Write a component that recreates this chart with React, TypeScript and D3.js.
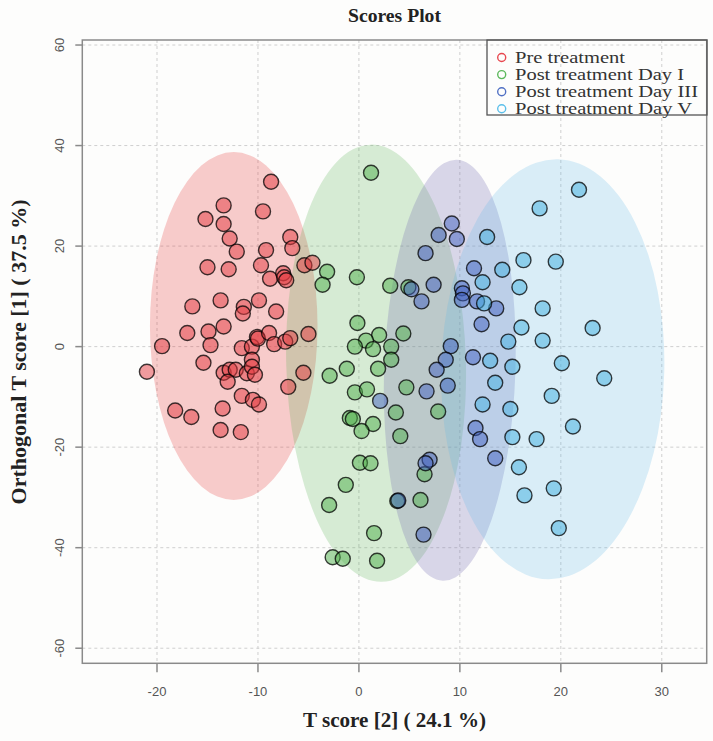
import React from "react";
import * as d3 from "d3";

const W = 713;
const H = 741;

const groupNames = ["Pre treatment", "Post treatment Day I", "Post treatment Day III", "Post treatment Day V"];
const markerColors = ["#e8474f", "#5cb85c", "#5070c4", "#5bbfea"];
const pointColors = ["#e4393f", "#4daf4a", "#3f5fc0", "#3fb0e0"];
const ellipseColors = ["#e41a1c", "#4daf4a", "#7570b3", "#5bb4e6"];

const xTicks = [-20, -10, 0, 10, 20, 30];
const yTicks = [-60, -40, -20, 0, 20, 40, 60];

// ellipse: [cx, cy, rx, ry, angleDeg]
const ellipsePre = [-12.4, 4.1, 8.3, 34.6, 0];
const ellipseDay1 = [1.7, -3.3, 8.9, 43.5, -1.5];
const ellipseDay3 = [9.0, -4.7, 6.5, 41.9, 1.9];
const ellipseDay5 = [19.2, -4.5, 11.05, 41.8, 1.4];

const pre: [number, number][] = [
  [-8.7, 32.8], [-13.4, 28.1], [-9.5, 26.9], [-15.2, 25.4], [-13.4, 24.4], [-12.8, 21.5],
  [-6.8, 21.8], [-6.6, 19.6], [-12.1, 18.9], [-9.2, 19.2], [-15.0, 15.8], [-12.9, 15.4],
  [-9.7, 16.2], [-8.8, 13.5], [-7.5, 14.6], [-7.4, 13.8], [-7.2, 13.2], [-5.4, 16.2],
  [-4.6, 16.7], [-16.5, 8.0], [-13.7, 9.2], [-11.4, 7.9], [-11.5, 6.6], [-9.9, 9.2],
  [-8.2, 7.0], [-17.0, 2.7], [-14.9, 3.0], [-13.4, 4.0], [-19.5, 0.1], [-14.7, 0.3],
  [-11.6, -0.3], [-10.6, 0.0], [-10.1, 1.9], [-10.0, 1.6], [-8.9, 2.7], [-8.4, 0.5],
  [-7.3, 1.0], [-6.8, 1.7], [-5.0, 2.5], [-21.0, -5.0], [-15.4, -3.2], [-13.4, -5.2],
  [-12.8, -4.6], [-12.2, -4.6], [-13.0, -7.0], [-11.1, -5.3], [-10.6, -2.6], [-10.6, -4.0],
  [-10.3, -5.6], [-11.6, -9.8], [-10.5, -10.6], [-9.9, -11.5], [-7.0, -8.0], [-5.5, -5.2],
  [-18.2, -12.7], [-16.6, -14.0], [-13.5, -12.3], [-13.7, -16.6], [-11.7, -17.0],
];

const day1: [number, number][] = [
  [1.2, 34.6], [-3.15, 14.9], [-3.6, 12.3], [-0.2, 13.8], [3.1, 12.1], [4.9, 11.8],
  [-0.15, 4.7], [2.0, 2.3], [0.7, 1.2], [4.4, 2.6], [-0.4, 0.0], [3.2, 0.0],
  [1.4, -0.5], [3.2, -2.6], [1.9, -4.4], [-1.2, -4.4], [-2.9, -5.8], [-0.4, -9.1],
  [0.8, -8.5], [4.7, -8.1], [7.85, -12.9], [3.66, -13.1], [-0.9, -14.2], [-0.6, -14.4],
  [1.4, -15.4], [0.26, -16.8], [4.1, -17.8], [0.1, -23.1], [1.15, -23.2], [6.5, -25.4],
  [-1.3, -27.5], [-2.95, -31.5], [3.8, -30.7], [6.1, -30.5], [1.5, -37.1], [-2.6, -41.9],
  [-1.6, -42.2], [1.8, -42.6],
];

const day3: [number, number][] = [
  [9.2, 24.5], [7.9, 22.2], [9.7, 21.4], [6.6, 18.6], [11.4, 15.6], [5.2, 11.4],
  [7.4, 12.3], [6.2, 9.0], [10.2, 11.6], [10.3, 10.6], [10.2, 9.3], [11.7, 9.0],
  [13.6, 7.6], [12.15, 4.45], [9.1, 0.1], [11.3, -2.1], [8.6, -2.6], [7.7, -4.6],
  [8.8, -7.75], [6.7, -8.9], [2.1, -10.8], [11.55, -16.2], [12.0, -18.4], [13.5, -22.2],
  [7.0, -22.5], [6.6, -23.2], [3.9, -30.6], [6.4, -37.4],
];

const day5: [number, number][] = [
  [12.7, 21.8], [12.25, 12.8], [14.2, 15.3], [16.3, 17.2], [19.5, 16.9], [17.9, 27.5],
  [21.8, 31.2], [15.9, 11.8], [18.2, 7.6], [23.15, 3.7], [16.1, 3.8], [18.2, 1.2],
  [14.8, 1.0], [12.4, 8.6], [13.0, -2.8], [15.2, -4.0], [20.1, -3.3], [24.3, -6.3],
  [13.5, -7.2], [19.1, -9.8], [12.25, -11.5], [15.0, -12.4], [21.2, -15.9], [15.2, -18.0],
  [17.6, -18.4], [15.85, -24.0], [19.3, -28.2], [16.4, -29.6], [19.8, -36.1],
];

const groups = [pre, day1, day3, day5];
const ellipses = [ellipsePre, ellipseDay1, ellipseDay3, ellipseDay5];

const legendWidths = [110, 169, 183, 177];

export default function App() {
  const x = d3.scaleLinear().domain([-27.4, 34.45]).range([82.3, 706.7]);
  const y = d3.scaleLinear().domain([-63, 61]).range([663.3, 40]);
  const [x0, x1] = x.range();
  const [y0, y1] = y.range();
  const axisColor = "#8a8a8a";
  const serif = "'Liberation Serif', 'Times New Roman', serif";
  const sans = "'Liberation Sans', Arial, sans-serif";

  return (
    <svg width={W} height={H} style={{ position: "absolute", left: 0, top: 0, background: "#fdfdfc" }}>
      <rect x={0} y={0} width={W} height={H} fill="#fdfdfc" />
      {/* grid */}
      {xTicks.map((t) => (
        <line key={"gx" + t} x1={x(t)} x2={x(t)} y1={y1} y2={y0} stroke="#cfcfcf" strokeWidth={1} strokeDasharray="3,3" />
      ))}
      {yTicks.map((t) => (
        <line key={"gy" + t} x1={x0} x2={x1} y1={y(t)} y2={y(t)} stroke="#cfcfcf" strokeWidth={1} strokeDasharray="3,3" />
      ))}
      {/* ellipses */}
      {ellipses.map((e, i) => {
        const cx = x(e[0]);
        const cy = y(e[1]);
        const rx = x(e[0] + e[2]) - cx;
        const ry = cy - y(e[1] + e[3]);
        return (
          <ellipse key={"e" + i} cx={cx} cy={cy} rx={rx} ry={ry}
            transform={`rotate(${e[4]} ${cx} ${cy})`}
            fill={ellipseColors[i]} fillOpacity={i === 2 ? 0.27 : 0.22} stroke="none" />
        );
      })}
      {/* points */}
      {groups.map((g, gi) => (
        <g key={"g" + gi}>
          {g.map((p, pi) => (
            <circle key={pi} cx={x(p[0])} cy={y(p[1])} r={7.5}
              fill={pointColors[gi]} fillOpacity={0.5}
              stroke="#000" strokeOpacity={0.75} strokeWidth={1.4} />
          ))}
        </g>
      ))}
      {/* box */}
      <rect x={x0} y={y1} width={x1 - x0} height={y0 - y1} fill="none" stroke={axisColor} strokeWidth={1.5} />
      {/* x ticks */}
      {xTicks.map((t) => (
        <g key={"xt" + t}>
          <line x1={x(t)} x2={x(t)} y1={y0} y2={y0 + 9} stroke={axisColor} strokeWidth={1.5} />
          <text x={x(t)} y={696} textAnchor="middle" fontFamily={sans} fontSize={13} fill="#555">{t}</text>
        </g>
      ))}
      {/* y ticks */}
      {yTicks.map((t) => (
        <g key={"yt" + t}>
          <line x1={x0 - 7} x2={x0} y1={y(t)} y2={y(t)} stroke={axisColor} strokeWidth={1.5} />
          <text transform={`translate(64, ${y(t)}) rotate(-90)`} textAnchor="middle" fontFamily={sans} fontSize={13} fill="#555">{t}</text>
        </g>
      ))}
      {/* title */}
      <text x={(x0 + x1) / 2} y={22} textAnchor="middle" fontFamily={serif} fontWeight="bold" fontSize={18.5}
        textLength={93} lengthAdjust="spacingAndGlyphs" fill="#222">Scores Plot</text>
      {/* axis labels */}
      <text x={(x0 + x1) / 2} y={727} textAnchor="middle" fontFamily={serif} fontWeight="bold" fontSize={20}
        textLength={183} lengthAdjust="spacingAndGlyphs" fill="#222">T score [2] ( 24.1 %)</text>
      <text transform={`translate(26, 352) rotate(-90)`} textAnchor="middle" fontFamily={serif} fontWeight="bold" fontSize={20}
        textLength={305} lengthAdjust="spacingAndGlyphs" fill="#222">Orthogonal T score [1] ( 37.5 %)</text>
      {/* legend */}
      <rect x={487} y={40} width={220} height={75} fill="none" stroke="#555" strokeWidth={1.3} />
      {groupNames.map((n, i) => (
        <g key={"l" + i}>
          <circle cx={501.7} cy={57.5 + i * 17.1} r={4} fill="none" stroke={markerColors[i]} strokeWidth={1.4} />
          <text x={515} y={57.5 + i * 17.1 + 5.5} fontFamily={serif} fontSize={16} fill="#333"
            textLength={legendWidths[i]} lengthAdjust="spacingAndGlyphs">{n}</text>
        </g>
      ))}
    </svg>
  );
}
